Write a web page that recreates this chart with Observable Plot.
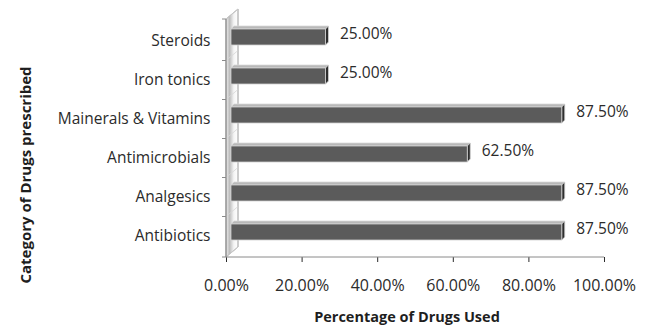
<!DOCTYPE html>
<html>
<head>
<meta charset="utf-8">
<script src="https://cdn.jsdelivr.net/npm/d3@7"></script>
<script src="https://cdn.jsdelivr.net/npm/@observablehq/plot@0.6"></script>
<style>
  body { margin: 0; background: #fff; }
  #chart svg { display: block; }
</style>
</head>
<body>
<div id="chart"></div>
<script>
// Drug categories and the share of prescriptions using each
const categories = ["Steroids", "Iron tonics", "Mainerals & Vitamins", "Antimicrobials", "Analgesics", "Antibiotics"];
const percentUsed = [25.0, 25.0, 87.5, 62.5, 87.5, 87.5];
const xTicks = [0, 20, 40, 60, 80, 100];
const xTitle = "Percentage of Drugs Used";
const yTitle = "Category of Drugs prescribed";

const rows = categories.map((category, i) => ({category, value: percentUsed[i]}));

// pseudo-3D geometry (pixels)
const WALL_DX = 12, WALL_DY = -10;      // depth of the side wall
const BAR_SHIFT_X = 5, BAR_SHIFT_Y = -4; // bars sit part way into the depth
const BAR_DX = 3, BAR_DY = -3;           // thickness of each bar

const fmt = v => v.toFixed(2) + "%";

// Side wall, axis lines and category boundary ticks
function wall(index, scales, values, dims) {
  const x0 = scales.x(0), x1 = scales.x(100);
  const top = dims.marginTop, bottom = dims.height - dims.marginBottom;
  const g = d3.create("svg:g");
  const grad = g.append("defs").append("linearGradient")
    .attr("id", "wallShade").attr("x1", 0).attr("x2", 1).attr("y1", 0).attr("y2", 0);
  grad.append("stop").attr("offset", "0%").attr("stop-color", "#efefef");
  grad.append("stop").attr("offset", "30%").attr("stop-color", "#bdbdbd");
  grad.append("stop").attr("offset", "65%").attr("stop-color", "#f4f4f4");
  grad.append("stop").attr("offset", "100%").attr("stop-color", "#ffffff");
  g.append("path")
    .attr("d", `M${x0},${top}L${x0 + WALL_DX},${top + WALL_DY}L${x0 + WALL_DX},${bottom + WALL_DY}L${x0},${bottom}Z`)
    .attr("fill", "url(#wallShade)").attr("stroke", "#9a9a9a").attr("stroke-width", 1);
  // boundaries between categories
  const bw = scales.y.bandwidth();
  const centers = categories.map(c => scales.y(c) + bw / 2);
  const bounds = [top];
  for (let i = 1; i < centers.length; ++i) bounds.push((centers[i - 1] + centers[i]) / 2);
  bounds.push(bottom);
  for (const b of bounds) {
    g.append("line").attr("x1", x0 - 4).attr("x2", x0).attr("y1", b).attr("y2", b)
      .attr("stroke", "#8a8a8a");
    g.append("line").attr("x1", x0).attr("x2", x0 + WALL_DX).attr("y1", b).attr("y2", b + WALL_DY)
      .attr("stroke", "#d6d6d6").attr("stroke-width", 0.8);
  }
  // axis lines
  g.append("line").attr("x1", x0).attr("x2", x0).attr("y1", top).attr("y2", bottom).attr("stroke", "#8a8a8a");
  g.append("line").attr("x1", x0).attr("x2", x1).attr("y1", bottom).attr("y2", bottom).attr("stroke", "#8a8a8a");
  return g.node();
}

// Axis titles, placed relative to the frame
function titles(index, scales, values, dims) {
  const g = d3.create("svg:g")
    .attr("font-weight", "bold").attr("fill", "#1e1e1e")
    .attr("text-anchor", "middle").attr("dominant-baseline", "central");
  const cx = (dims.marginLeft + dims.width - dims.marginRight) / 2;
  const bottom = dims.height - dims.marginBottom;
  g.append("text").attr("font-size", 14.5).attr("x", cx - 8).attr("y", bottom + 59).text(xTitle);
  g.append("text").attr("font-size", 15)
    .attr("transform", `translate(25,${(dims.marginTop + bottom) / 2 + 37}) rotate(-90)`).text(yTitle);
  return g.node();
}

const plot = Plot.plot({
  width: 651,
  height: 327,
  marginLeft: 226,
  marginRight: 47,
  marginTop: 19,
  marginBottom: 70,
  style: {fontFamily: "'Open Sans', sans-serif", fontSize: "16px", color: "#2b2b2b", background: "#fff"},
  x: {domain: [0, 100], ticks: xTicks, tickFormat: fmt, tickSize: 5, tickPadding: 17, label: null},
  y: {domain: categories, paddingInner: 0.6, paddingOuter: 0.3, tickSize: 0, tickPadding: 16, label: null},
  marks: [
    wall,
    Plot.barX(rows, {
      x: "value", y: "category",
      render(index, scales, values) {
        const g = d3.create("svg:g");
        const h = scales.y.bandwidth();
        for (const i of index) {
          const xa = values.x1[i] + BAR_SHIFT_X, xb = values.x2[i] + BAR_SHIFT_X;
          const ya = values.y[i] + BAR_SHIFT_Y, yb = ya + h;
          // top face
          g.append("path")
            .attr("d", `M${xa},${ya}L${xa + BAR_DX},${ya + BAR_DY}L${xb + BAR_DX},${ya + BAR_DY}L${xb},${ya}Z`)
            .attr("fill", "#b8b8b8").attr("stroke", "#d8d8d8").attr("stroke-width", 0.8);
          // end face
          g.append("path")
            .attr("d", `M${xb},${ya}L${xb + BAR_DX},${ya + BAR_DY}L${xb + BAR_DX},${yb + BAR_DY}L${xb},${yb}Z`)
            .attr("fill", "#2e2e2e").attr("stroke", "#d0d0d0").attr("stroke-width", 0.8);
          // front face
          g.append("rect")
            .attr("x", xa).attr("y", ya).attr("width", xb - xa).attr("height", h)
            .attr("fill", "#5b5b5b").attr("stroke", "#d0d0d0").attr("stroke-width", 0.8);
        }
        return g.node();
      }
    }),
    Plot.text(rows, {
      x: "value", y: "category", text: d => fmt(d.value),
      textAnchor: "start", dx: 19, dy: -7, fill: "#2b2b2b", fontSize: 15.5
    }),
    Plot.axisY({tickSize: 0, tickPadding: 16, fontSize: 15.5, label: null}),
    titles
  ]
});

document.getElementById("chart").appendChild(plot);
</script>
</body>
</html>
